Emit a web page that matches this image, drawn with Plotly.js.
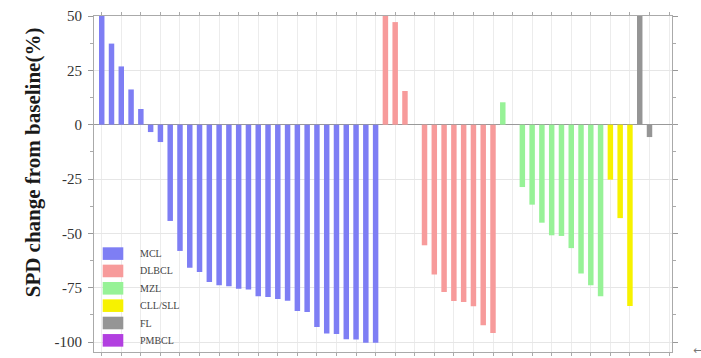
<!DOCTYPE html>
<html>
<head>
<meta charset="utf-8">
<script src="https://cdn.plot.ly/plotly-3.0.1.min.js"></script>
<style>html,body{margin:0;padding:0;background:#fff;}#chart{width:701px;height:358px;}</style>
</head>
<body>
<div id="chart"></div>
<script>
// ---- data (SPD change from baseline, %), in plotted order ----
var groupNames = ["MCL", "DLBCL", "MZL", "CLL/SLL", "FL", "PMBCL"];
var groupColors = ["#7e7ef4", "#f79b9b", "#97f297", "#f7f200", "#959595", "#b23fe0"];

var mclValues = [50, 37.3, 26.8, 16.2, 7.2, -3.4, -8.0,
  -44.3, -58.1, -65.8, -67.8, -72.4, -73.9, -74.4, -75.5, -75.9, -79.0, -79.3,
  -80.2, -81.0, -85.7, -86.2, -93.1, -96.1, -96.3, -98.7, -98.9, -100.4, -100.4];
var dlbclValues = [50, 47.2, 15.5, 0, -55.5, -68.9, -77.0, -81.1, -81.6, -83.6, -92.3, -95.9];
var mzlValues = [10.3, 0, -28.7, -36.8, -45.1, -50.9, -51.2, -56.8, -68.5, -73.9, -79.0];
var cllValues = [-25.3, -43.0, -83.4];
var flValues = [50, -5.7];
var pmbclValues = [];

var yTitle = "SPD change from baseline(%)";
var yTickVals = [50, 25, 0, -25, -50, -75, -100];
var yTickText = ["50", "25", "0", "-25", "-50", "-75", "-100"];
var yMinorVals = [37.5, 12.5, -12.5, -37.5, -62.5, -87.5];

var SERIF = "Liberation Serif";

// ---- build traces ----
var allGroups = [mclValues, dlbclValues, mzlValues, cllValues, flValues, pmbclValues];
var traces = [];
var pos = 1;
allGroups.forEach(function (vals, gi) {
  var xs = [];
  for (var i = 0; i < vals.length; i++) { xs.push(pos); pos++; }
  traces.push({
    type: "bar", x: xs, y: vals, name: groupNames[gi],
    marker: {color: groupColors[gi], line: {width: 0}},
    width: 0.56, showlegend: false, hoverinfo: "x+y"
  });
});

var nSlots = pos - 1;
var xTicks = [];
for (var t = 1; t <= nSlots + 2; t += 2) xTicks.push(t);

// ---- custom legend (wide swatches) ----
var shapes = [], annotations = [];
var plotL = 94, plotR = 672, plotT = 15.7, plotB = 351.7;
function px(xp) { return (xp - plotL) / (plotR - plotL); }
function py(yp) { return (plotB - yp) / (plotB - plotT); }
groupNames.forEach(function (nm, i) {
  var cy = 253.3 + i * 17.35;
  shapes.push({type: "rect", xref: "paper", yref: "paper",
    x0: px(102.7), x1: px(123.3), y0: py(cy + 6.3), y1: py(cy - 6.3),
    fillcolor: groupColors[i], line: {width: 0}});
  annotations.push({xref: "paper", yref: "paper", x: px(138), y: py(cy),
    xanchor: "left", yanchor: "middle", showarrow: false, text: nm,
    font: {family: SERIF, size: 10, color: "#444"}});
});
// y-axis title
annotations.push({xref: "paper", yref: "paper", x: px(33), y: py(162),
  xanchor: "center", yanchor: "middle", showarrow: false, textangle: -90,
  text: "<b>" + yTitle + "</b>",
  font: {family: SERIF, size: 21, color: "#1a1a1a"}});
annotations.push({xref: "paper", yref: "paper", x: px(697), y: py(350),
  xanchor: "center", yanchor: "middle", showarrow: false, text: "←",
  font: {family: "DejaVu Sans", size: 11, color: "#777"}});

var xRange = [0.21, 59.3];
var yRange = [-104.6, 50];

var layout = {
  width: 701, height: 358,
  margin: {l: plotL, r: 701 - plotR, t: plotT, b: 358 - plotB, pad: 0},
  paper_bgcolor: "#fff", plot_bgcolor: "#fff",
  barmode: "overlay",
  showlegend: false,
  font: {family: SERIF, color: "#333"},
  xaxis: {
    range: xRange, tickmode: "array", tickvals: xTicks, showticklabels: false,
    ticks: "outside", ticklen: 3, tickcolor: "#aaa",
    showgrid: true, gridcolor: "#ececec", gridwidth: 1,
    zeroline: false, showline: true, linecolor: "#aaa", linewidth: 1, mirror: "ticks"
  },
  yaxis: {
    range: yRange, tickmode: "array", tickvals: yTickVals, ticktext: yTickText,
    ticks: "outside", ticklen: 5, tickcolor: "#999", ticklabelstandoff: 3,
    tickfont: {family: SERIF, size: 15, color: "#333"},
    minor: {tickmode: "array", tickvals: yMinorVals, ticks: "outside", ticklen: 3, tickcolor: "#aaa", showgrid: false},
    showgrid: true, gridcolor: "#e6e6e6", gridwidth: 1,
    zeroline: true, zerolinecolor: "#999", zerolinewidth: 1.5,
    showline: true, linecolor: "#aaa", linewidth: 1, mirror: "ticks"
  },
  shapes: shapes,
  annotations: annotations
};

Plotly.newPlot("chart", traces, layout, {displayModeBar: false, staticPlot: true});
</script>
</body>
</html>
